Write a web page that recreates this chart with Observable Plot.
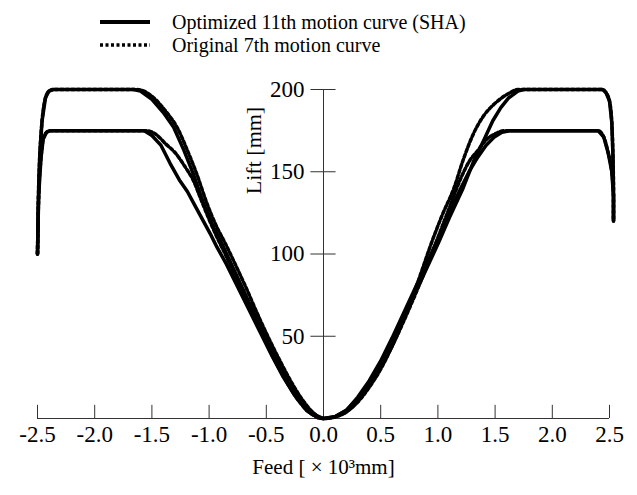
<!DOCTYPE html>
<html><head><meta charset="utf-8">
<script src="https://cdn.jsdelivr.net/npm/d3@7"></script>
<script src="https://cdn.jsdelivr.net/npm/@observablehq/plot@0.6"></script>
<style>
body{margin:0;background:#fff;font-family:"Liberation Serif","Times New Roman",serif;}
#legend{position:relative;height:68px;width:637px;}
.item{position:absolute;left:100px;height:24px;display:flex;align-items:center;font-size:20px;color:#000;}
.item span{margin-left:22px;white-space:nowrap;}
</style></head><body>
<div id="legend"></div>
<div id="chart"></div>
<script>
// ---- data ----
const legendLabels = ["Optimized 11th motion curve (SHA)", "Original 7th motion curve"];
const xLabel = "Feed [ × 10³mm]";
const yLabel = "Lift [mm]";
const xTicks = [-2.5, -2.0, -1.5, -1.0, -0.5, 0.0, 0.5, 1.0, 1.5, 2.0, 2.5];
const yTicks = [50, 100, 150, 200];

// Optimized 11th motion curve, 200 mm lift
const opt200X = [-2.5, -2.49, -2.48, -2.46, -2.43, -2.40, -2.36, -1.66, -1.60, -1.50, -1.40, -1.31, -1.22, -1.14, -1.05, -0.96, -0.90, -0.80, -0.70, -0.60, -0.50, -0.40, -0.30, -0.20, -0.10, 0, 0.10, 0.20, 0.30, 0.40, 0.50, 0.60, 0.70, 0.80, 0.90, 1.00, 1.10, 1.22, 1.31, 1.40, 1.48, 1.55, 1.62, 1.70, 1.75, 2.44, 2.47, 2.50, 2.52, 2.53, 2.535, 2.535];
const opt200Y = [100, 140, 160, 181, 195, 199, 200, 200, 199, 194, 186, 177, 163, 149, 131, 116, 108, 93, 78, 63, 48, 34, 21, 10, 3, 0, 1, 5, 12, 21, 33, 47, 61, 76, 91, 106, 122, 140, 156, 169, 181, 189, 195, 199, 200, 200, 198, 193, 180, 160, 140, 120];

// Optimized 11th motion curve, 175 mm lift
const opt175X = [-2.5, -2.49, -2.47, -2.45, -2.42, -2.39, -1.57, -1.50, -1.42, -1.34, -1.26, -1.19, -1.12, -1.05, -0.98, -0.93, -0.85, -0.75, -0.65, -0.55, -0.45, -0.35, -0.25, -0.15, -0.05, 0, 0.10, 0.20, 0.30, 0.40, 0.50, 0.60, 0.70, 0.80, 0.90, 1.00, 1.10, 1.20, 1.28, 1.35, 1.42, 1.49, 1.56, 1.63, 2.40, 2.45, 2.49, 2.52, 2.535, 2.535];
const opt175Y = [100, 135, 158, 170, 174, 175, 175, 172, 166, 155, 145, 138, 129, 120, 111, 104, 94, 80, 66, 52, 38, 25, 14, 5, 0.5, 0, 1, 5, 13, 23, 35, 49, 64, 79, 94, 109, 125, 140, 151, 159, 166, 171, 174, 175, 175, 171, 161, 150, 135, 120];

// Original 7th motion curve, 200 mm lift
const orig200X = [-2.5, -2.49, -2.48, -2.46, -2.43, -2.40, -2.36, -1.63, -1.57, -1.47, -1.37, -1.28, -1.19, -1.11, -1.02, -0.93, -0.87, -0.78, -0.68, -0.58, -0.48, -0.38, -0.28, -0.18, -0.08, 0, 0.10, 0.20, 0.30, 0.40, 0.50, 0.60, 0.70, 0.80, 0.87, 0.94, 1.04, 1.14, 1.22, 1.31, 1.40, 1.49, 1.56, 1.63, 1.70, 2.44, 2.47, 2.50, 2.52, 2.53, 2.535, 2.535];
const orig200Y = [100, 140, 160, 181, 195, 199, 200, 200, 199, 194, 186, 177, 163, 149, 131, 116, 108, 95, 80, 64, 49, 35, 22, 11, 3, 0, 1, 4, 10, 19, 30, 44, 60, 78, 92, 106, 124, 140, 157, 173, 184, 191, 195, 198, 200, 200, 198, 193, 180, 160, 140, 120];

// Original 7th motion curve, 175 mm lift
const orig175X = [-2.5, -2.49, -2.47, -2.45, -2.42, -2.39, -1.55, -1.47, -1.38, -1.29, -1.21, -1.14, -1.07, -1.00, -0.93, -0.86, -0.76, -0.66, -0.56, -0.46, -0.36, -0.26, -0.16, -0.06, 0, 0.10, 0.20, 0.30, 0.40, 0.50, 0.60, 0.70, 0.80, 0.90, 1.00, 1.10, 1.20, 1.28, 1.35, 1.43, 1.50, 1.58, 2.40, 2.45, 2.49, 2.52, 2.535, 2.535];
const orig175Y = [100, 135, 158, 170, 174, 175, 175, 173, 167, 161, 153, 145, 133, 121, 110, 100, 85, 70, 55, 40, 27, 15, 6, 1, 0, 1, 4, 11, 20, 31, 44, 59, 75, 92, 110, 128, 146, 157, 163, 170, 173, 175, 175, 171, 161, 150, 135, 120];

// ---- build table ----
function rows(name, type, xs, ys) { return xs.map((x, i) => ({series: name, type, x, y: ys[i]})); }
const solid = [...rows("opt200", "opt", opt200X, opt200Y), ...rows("opt175", "opt", opt175X, opt175Y)];
const dashed = [...rows("orig200", "orig", orig200X, orig200Y), ...rows("orig175", "orig", orig175X, orig175Y)];

// ---- legend ----
const legend = document.getElementById("legend");
const styles = [{dash: null, top: 10}, {dash: "3,2.5", top: 33}];
legendLabels.forEach((lab, i) => {
  const div = document.createElement("div");
  div.className = "item";
  div.style.top = styles[i].top + "px";
  div.innerHTML = `<svg width="50" height="8"><line x1="0" x2="50" y1="4" y2="4" stroke="#000" stroke-width="${i === 0 ? 4 : 3.5}" ${styles[i].dash ? `stroke-dasharray="${styles[i].dash}"` : ""}/></svg><span>${lab}</span>`;
  legend.appendChild(div);
});

// ---- chart ----
const chart = Plot.plot({
  width: 637, height: 427,
  marginLeft: 37, marginRight: 28, marginTop: 21, marginBottom: 77,
  x: {domain: [-2.5, 2.5], axis: null},
  y: {domain: [0, 200], axis: null},
  style: {fontFamily: "'Liberation Serif', 'Times New Roman', serif", background: "white", color: "black", overflow: "visible"},
  marks: [
    Plot.ruleY([0], {stroke: "#333", strokeWidth: 1}),
    Plot.ruleX(xTicks, {x: d => d, y1: () => 0, y2: () => 8, stroke: "#333", strokeWidth: 1}),
    Plot.ruleX([0], {stroke: "#333", strokeWidth: 1}),
    Plot.ruleY(yTicks, {y: d => d, x1: () => -0.11, x2: () => 0.11, stroke: "#333", strokeWidth: 1}),
    Plot.text(yTicks, {x: () => 0, y: d => d, text: d => String(d), textAnchor: "end", dx: -19, fontSize: 23, fill: "black"}),
    Plot.text(xTicks, {x: d => d, frameAnchor: "bottom", dy: 23, text: d => d.toFixed(1), fontSize: 23, fill: "black"}),
    Plot.text([xLabel], {frameAnchor: "bottom", dy: 55, text: d => d, fontSize: 21, fill: "black"}),
    Plot.text([yLabel], {frameAnchor: "top", dx: -78, dy: 61, rotate: -90, text: d => d, fontSize: 22, fill: "black"}),
    Plot.line(solid, {x: "x", y: "y", z: "series", stroke: "black", strokeWidth: 3.5, curve: "linear"}),
    Plot.line(dashed, {x: "x", y: "y", z: "series", stroke: "black", strokeWidth: 3.5, strokeDasharray: "3,2.5", curve: "monotone-x"})
  ]
});
document.getElementById("chart").appendChild(chart);
</script>
</body></html>
